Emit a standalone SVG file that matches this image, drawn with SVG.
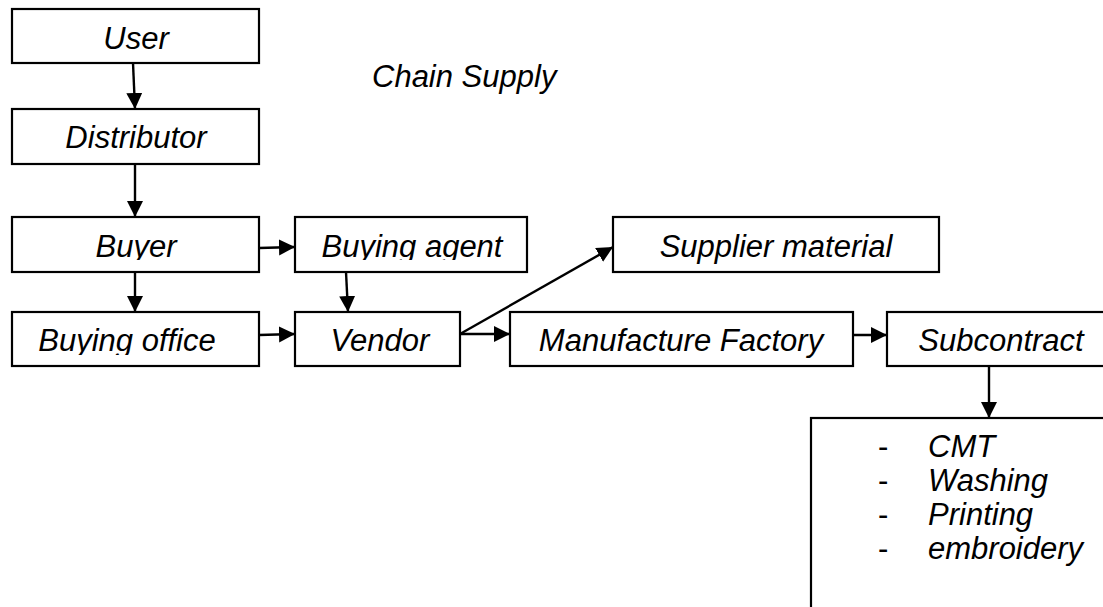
<svg xmlns="http://www.w3.org/2000/svg" width="1103" height="607" viewBox="0 0 1103 607">
<style>
.box{fill:#fff;stroke:#000;stroke-width:2.2}
.t{font-family:"Liberation Sans",Arial,sans-serif;font-style:italic;font-size:31px;fill:#000}
.c{text-anchor:middle}
.ln{stroke:#000;stroke-width:2.4;fill:none}
</style>
<defs>
<marker id="ah" markerUnits="userSpaceOnUse" markerWidth="20" markerHeight="20" refX="16" refY="8" orient="auto">
<path d="M0,0 L16,8 L0,16 z" fill="#000"/>
</marker>
<clipPath id="cBuyer"><rect x="12" y="217" width="247" height="43"/></clipPath>
<clipPath id="cAgent"><rect x="295" y="217" width="232" height="43"/></clipPath>
<clipPath id="cOffice"><rect x="12" y="312" width="247" height="43"/></clipPath>
</defs>
<rect x="0" y="0" width="1103" height="607" fill="#fff"/>
<g id="user"><rect class="box" x="12" y="9" width="247" height="54"/><text class="t c" x="136" y="49">User</text></g>
<g id="distributor"><rect class="box" x="12" y="109" width="247" height="55"/><text class="t c" x="136" y="148">Distributor</text></g>
<g id="title"><text class="t" x="372" y="87">Chain Supply</text></g>
<g id="buyer"><rect class="box" x="12" y="217" width="247" height="55"/><text class="t c" x="136" y="257" clip-path="url(#cBuyer)">Buyer</text></g>
<g id="buying-agent"><rect class="box" x="295" y="217" width="232" height="55"/><text class="t c" x="412" y="257" clip-path="url(#cAgent)">Buying agent</text></g>
<g id="supplier"><rect class="box" x="613" y="217" width="326" height="55"/><text class="t c" x="776" y="257">Supplier material</text></g>
<g id="buying-office"><rect class="box" x="12" y="312" width="247" height="54"/><text class="t c" x="127" y="351" clip-path="url(#cOffice)">Buying office</text></g>
<g id="vendor"><rect class="box" x="295" y="312" width="165" height="54"/><text class="t c" x="380" y="351">Vendor</text></g>
<g id="manufacture"><rect class="box" x="510" y="312" width="343" height="54"/><text class="t c" x="681" y="351">Manufacture Factory</text></g>
<g id="subcontract"><rect class="box" x="887" y="312" width="240" height="54"/><text class="t c" x="1001" y="351">Subcontract</text></g>
<g id="list"><rect class="box" x="811" y="418" width="320" height="220"/>
<text class="t" x="878" y="457"><tspan font-style="normal">-</tspan></text>
<text class="t" x="928" y="457">CMT</text>
<text class="t" x="878" y="491"><tspan font-style="normal">-</tspan></text>
<text class="t" x="928" y="491">Washing</text>
<text class="t" x="878" y="525"><tspan font-style="normal">-</tspan></text>
<text class="t" x="928" y="525">Printing</text>
<text class="t" x="878" y="559"><tspan font-style="normal">-</tspan></text>
<text class="t" x="928" y="559">embroidery</text>
</g>
<g id="connectors">
<line class="ln" x1="133" y1="63" x2="135" y2="109" marker-end="url(#ah)"/>
<line class="ln" x1="135" y1="164" x2="135" y2="217" marker-end="url(#ah)"/>
<line class="ln" x1="259" y1="248" x2="295" y2="247" marker-end="url(#ah)"/>
<line class="ln" x1="135" y1="272" x2="135" y2="312" marker-end="url(#ah)"/>
<line class="ln" x1="346" y1="272" x2="348" y2="312" marker-end="url(#ah)"/>
<line class="ln" x1="259" y1="335" x2="295" y2="334" marker-end="url(#ah)"/>
<line class="ln" x1="460" y1="334" x2="613" y2="247" marker-end="url(#ah)"/>
<line class="ln" x1="460" y1="334" x2="510" y2="334" marker-end="url(#ah)"/>
<line class="ln" x1="853" y1="335" x2="887" y2="335" marker-end="url(#ah)"/>
<line class="ln" x1="989" y1="366" x2="989" y2="418" marker-end="url(#ah)"/>
</g>
</svg>
